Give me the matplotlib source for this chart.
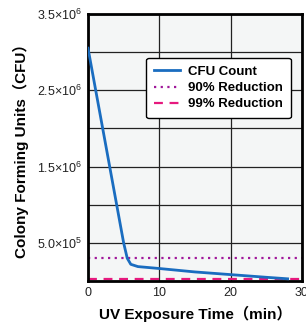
import matplotlib
matplotlib.use("Agg")
from matplotlib import pyplot as plt

time_min = [0, 5, 5.5, 6, 7, 10, 15, 20, 25, 28]
cfu = [3.05e6, 0.5e6, 0.3e6, 0.22e6, 0.19e6, 0.165e6, 0.12e6, 0.085e6, 0.05e6, 0.03e6]
reduction_90 = 3.05e5
reduction_99 = 3.05e4
yticks = [0.5e6, 1.5e6, 2.5e6, 3.5e6]
ytick_labels = ['5.0×10$^5$', '1.5×10$^6$', '2.5×10$^6$', '3.5×10$^6$']
xticks = [0, 10, 20, 30]

fonts = ['Liberation Sans', 'Noto Sans CJK JP', 'DejaVu Sans']
plt.rcParams['font.family'] = fonts
plt.rcParams['mathtext.fontset'] = 'custom'
plt.rcParams['mathtext.rm'] = 'Liberation Sans'

fig = plt.figure(figsize=(3.06, 3.22), dpi=100)
ax = fig.add_axes([0.2876, 0.127, 0.699, 0.83])
ax.set_facecolor('#f4f6f6')

ax.plot(time_min, cfu, color='#1a6dc0', lw=2, label='CFU Count', zorder=3)
ax.axhline(reduction_90, color='#a0189a', lw=1.6, ls=(0, (1, 2)), label='90% Reduction', zorder=2)
ax.axhline(reduction_99, color='#e6197e', lw=1.6, ls=(0, (4, 3)), label='99% Reduction', zorder=2)

grid_y = [i * 0.5e6 for i in range(8)]
ax.set_xlim(0, 30)
ax.set_ylim(0, 3.5e6)
ax.set_xticks(xticks)
ax.set_yticks(grid_y)
ax.set_yticklabels(['' if v not in yticks else ytick_labels[yticks.index(v)] for v in grid_y])
ax.grid(True, color='#222222', lw=0.9, zorder=1)
ax.set_axisbelow(True)
ax.tick_params(length=0, labelsize=9, pad=4, colors='#222222')
for s in ax.spines.values():
    s.set_linewidth(2)
    s.set_color('black')

ax.set_xlabel('UV Exposure Time（min）', fontsize=11, fontweight='bold', labelpad=5)
ax.set_ylabel('Colony Forming Units（CFU）', fontsize=11, fontweight='bold', labelpad=6)

leg = ax.legend(loc='upper right', bbox_to_anchor=(0.98, 0.86),
                prop={'weight': 'bold', 'size': 9.5, 'family': fonts},
                frameon=True, fancybox=True, framealpha=1, edgecolor='black',
                handlelength=2.0, borderpad=0.6, labelspacing=0.3, handletextpad=0.6)
leg.get_frame().set_linewidth(1)

plt.savefig('out.png', dpi=100)
